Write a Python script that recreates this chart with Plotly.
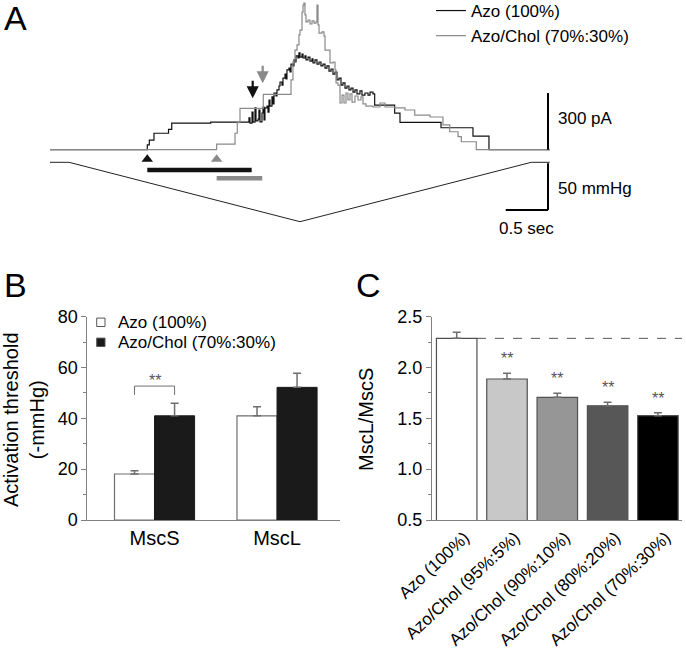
import plotly.graph_objects as go

FONT = "Liberation Sans, Arial, sans-serif"
W, H = 686, 657

# ---------------- Panel A data (time in s, current in pA; step changes) ----------------
azo_steps = [
    (0.0, 0), (1.150, 25), (1.174, 51), (1.229, 87), (1.401, 107), (1.439, 141), (1.90, 146),
    (2.329, 146), (2.352, 168), (2.364, 141), (2.388, 199), (2.400, 146), (2.423, 221), (2.435, 152),
    (2.459, 162), (2.470, 210), (2.482, 147), (2.506, 194), (2.518, 226), (2.530, 157), (2.541, 221),
    (2.565, 231), (2.577, 199), (2.589, 263), (2.600, 231), (2.624, 279), (2.636, 242), (2.648, 300),
    (2.671, 284), (2.683, 316), (2.707, 337), (2.719, 358), (2.742, 342), (2.754, 379), (2.778, 400),
    (2.790, 374), (2.801, 422), (2.825, 432), (2.837, 411), (2.849, 453), (2.872, 443), (2.884, 475),
    (2.896, 464), (2.908, 496), (2.931, 485), (2.943, 512), (2.955, 490), (2.979, 506), (2.991, 485),
    (3.014, 496), (3.026, 475), (3.050, 490), (3.073, 469), (3.097, 480), (3.109, 459), (3.132, 475),
    (3.156, 453), (3.180, 464), (3.203, 443), (3.227, 453), (3.251, 432), (3.274, 443), (3.298, 416),
    (3.322, 427), (3.345, 400), (3.369, 411), (3.392, 369), (3.416, 379), (3.440, 342), (3.463, 353),
    (3.487, 326), (3.511, 337), (3.534, 316), (3.558, 326), (3.582, 305), (3.605, 316), (3.629, 295),
    (3.664, 311), (3.688, 289), (3.723, 300), (3.759, 289), (3.783, 305), (3.818, 295), (3.838, 236),
    (4.074, 193), (4.137, 145), (4.622, 116), (5.000, 72), (5.189, 0), (5.907, 0),
]
chol_steps = [
    (0.0, 0), (1.970, 30), (2.187, 87), (2.214, 143), (2.246, 219), (2.521, 293), (2.849, 369),
    (2.872, 464), (2.896, 527), (2.920, 554), (2.943, 607), (2.955, 633), (2.979, 728), (2.991, 765),
    (3.002, 776), (3.014, 713), (3.026, 676), (3.050, 686), (3.073, 665), (3.097, 681), (3.121, 670),
    (3.144, 676), (3.156, 765), (3.168, 660), (3.180, 617), (3.215, 623), (3.239, 601), (3.251, 527),
    (3.310, 459), (3.345, 464), (3.369, 422), (3.381, 353), (3.404, 342), (3.428, 247), (3.452, 289),
    (3.475, 247), (3.499, 300), (3.522, 263), (3.546, 295), (3.570, 252), (3.605, 284), (3.641, 263),
    (3.676, 279), (3.700, 242), (3.735, 231), (3.818, 226), (3.901, 247), (3.960, 226), (4.078, 221),
    (4.196, 210), (4.311, 183), (4.492, 173), (4.645, 131), (4.725, 95), (4.823, 69), (4.862, 42),
    (5.039, 0), (5.907, 0),
]
press_t = [0.0, 0.225, 2.955, 5.689, 5.907]      # s
press_p = [0, 0, -63.6, 0, 0]                     # mmHg

mscs_onset = {"azo": 1.150, "chol": 1.970}        # s (triangles)
mscl_onset = {"azo": 2.396, "chol": 2.514}        # s (arrows)
arrow_tip_i = {"azo": 272, "chol": 351}           # pA

# ---------------- Panel B data ----------------
channels = ["MscS", "MscL"]
azo_thr = [18.1, 41.0]
azo_thr_err = [1.3, 3.6]
chol_thr = [41.0, 52.2]
chol_thr_err = [4.9, 5.5]

# ---------------- Panel C data ----------------
lipids = ["Azo (100%)", "Azo/Chol (95%:5%)", "Azo/Chol (90%:10%)",
          "Azo/Chol (80%:20%)", "Azo/Chol (70%:30%)"]
ratio = [2.287, 1.887, 1.707, 1.624, 1.526]
ratio_err = [0.059, 0.056, 0.039, 0.034, 0.029]
ratio_colors = ["#ffffff", "#c8c8c8", "#969696", "#575757", "#000000"]

BLACK_TR = "#111111"
GRAY_TR = "#8a8a8a"
AXC = "#808080"

fig = go.Figure()

# Panel A traces
fig.add_trace(go.Scatter(x=[s[0] for s in azo_steps], y=[s[1] for s in azo_steps],
                         mode="lines", line=dict(color=BLACK_TR, width=1.2, shape="hv"),
                         name="Azo (100%)", xaxis="x", yaxis="y"))
fig.add_trace(go.Scatter(x=[s[0] for s in chol_steps], y=[s[1] for s in chol_steps],
                         mode="lines", line=dict(color=GRAY_TR, width=1.2, shape="hv"),
                         name="Azo/Chol (70%:30%)", xaxis="x", yaxis="y"))
fig.add_trace(go.Scatter(x=press_t, y=press_p, mode="lines",
                         line=dict(color="#222222", width=1), showlegend=False,
                         xaxis="x", yaxis="y2"))
# triangles marking MscS activation
fig.add_trace(go.Scatter(x=[mscs_onset["azo"], mscs_onset["chol"]], y=[-50, -50],
                         mode="markers", marker=dict(symbol="triangle-up", size=10,
                                                     color=[BLACK_TR, GRAY_TR]),
                         showlegend=False, xaxis="x", yaxis="y"))
# bars between MscS and MscL activation
fig.add_trace(go.Scatter(x=[mscs_onset["azo"], mscl_onset["azo"] - 0.012], y=[-107, -107],
                         mode="lines", line=dict(color=BLACK_TR, width=4.5),
                         showlegend=False, xaxis="x", yaxis="y"))
fig.add_trace(go.Scatter(x=[mscs_onset["chol"], mscl_onset["chol"] - 0.005], y=[-151, -151],
                         mode="lines", line=dict(color=GRAY_TR, width=4.5),
                         showlegend=False, xaxis="x", yaxis="y"))

# Panel B bars
bw_b = 0.327
fig.add_trace(go.Bar(x=channels, y=azo_thr, width=bw_b, offset=-bw_b,
                     marker=dict(color="white", line=dict(color="#6e6e6e", width=1.2)),
                     error_y=dict(type="data", array=azo_thr_err, arrayminus=[0, 0], symmetric=False,
                                  color="#6e6e6e", thickness=1.5, width=4),
                     showlegend=False, xaxis="x2", yaxis="y3"))
fig.add_trace(go.Bar(x=channels, y=chol_thr, width=bw_b, offset=0,
                     marker=dict(color="#1a1a1a", line=dict(color="#1a1a1a", width=1)),
                     error_y=dict(type="data", array=chol_thr_err, arrayminus=[0, 0], symmetric=False,
                                  color="#6e6e6e", thickness=1.5, width=4),
                     showlegend=False, xaxis="x2", yaxis="y3"))

# Panel C bars
bw_c = 0.805
fig.add_trace(go.Bar(x=lipids, y=ratio, width=bw_c, offset=-bw_c / 2, base=0,
                     marker=dict(color=ratio_colors, line=dict(color="#505050", width=1.2)),
                     error_y=dict(type="data", array=ratio_err, arrayminus=[0] * 5, symmetric=False,
                                  color="#6e6e6e", thickness=1.5, width=4),
                     showlegend=False, xaxis="x3", yaxis="y4"))

shapes = []
annotations = []

# scale bars (panel A)
sb_t = 5.887
shapes.append(dict(type="line", xref="x", yref="y", x0=sb_t, x1=sb_t, y0=0, y1=300,
                   line=dict(color="black", width=2)))
shapes.append(dict(type="line", xref="x", yref="y2", x0=sb_t, x1=sb_t, y0=-1, y1=-51,
                   line=dict(color="black", width=2)))
shapes.append(dict(type="line", xref="x", yref="y2", x0=sb_t - 0.5, x1=sb_t, y0=-51, y1=-51,
                   line=dict(color="black", width=2)))
annotations += [
    dict(x=sb_t + 0.09, y=166, xref="x", yref="y", text="300 pA", showarrow=False,
         xanchor="left", yanchor="middle", font=dict(size=17)),
    dict(x=sb_t + 0.09, y=-27.8, xref="x", yref="y2", text="50 mmHg", showarrow=False,
         xanchor="left", yanchor="middle", font=dict(size=17)),
    dict(x=sb_t - 0.25, y=-71.3, xref="x", yref="y2", text="0.5 sec", showarrow=False,
         xanchor="center", yanchor="middle", font=dict(size=17)),
]
# arrows marking MscL activation
for key, col in (("azo", BLACK_TR), ("chol", GRAY_TR)):
    annotations.append(dict(x=mscl_onset[key], y=arrow_tip_i[key], xref="x", yref="y",
                            ax=0, ay=-19, showarrow=True, arrowhead=2, arrowsize=1.1,
                            arrowwidth=2.2, arrowcolor=col, text=""))

# panel labels
for lab, px, py in (("A", 15, 18), ("B", 15, 285), ("C", 368, 285)):
    annotations.append(dict(x=px / W, y=1 - py / H, xref="paper", yref="paper", text=lab,
                            showarrow=False, xanchor="center", yanchor="middle",
                            font=dict(size=34)))

# Panel B: legend (manual), bracket and stars, y title
leg_b = [("Azo (100%)", "white", 322.3), ("Azo/Chol (70%:30%)", "#1a1a1a", 342.3)]
for txt, col, py in leg_b:
    shapes.append(dict(type="rect", xref="paper", yref="paper",
                       x0=96.7 / W, x1=105 / W, y0=1 - (py + 4.2) / H, y1=1 - (py - 4.2) / H,
                       fillcolor=col, line=dict(color="#555555", width=1)))
    annotations.append(dict(x=116 / W, y=1 - py / H, xref="paper", yref="paper", text=txt,
                            showarrow=False, xanchor="left", yanchor="middle",
                            font=dict(size=17)))
br_low = max(chol_thr[0] + chol_thr_err[0], azo_thr[0] + azo_thr_err[0]) + 3.3
br_high = br_low + 3.5
shapes.append(dict(type="path", xref="x2", yref="y3",
                   path=f"M {-bw_b/2},{br_low} L {-bw_b/2},{br_high} L {bw_b/2},{br_high} L {bw_b/2},{br_low}",
                   line=dict(color="#707070", width=1)))
annotations.append(dict(x=0, y=br_high, xref="x2", yref="y3", text="**", showarrow=False,
                        xanchor="center", yanchor="bottom", yshift=-5,
                        font=dict(size=16, color="#555555")))
annotations.append(dict(x=24 / W, y=1 - 420 / H, xref="paper", yref="paper",
                        text="Activation threshold<br>(-mmHg)", textangle=-90, showarrow=False,
                        xanchor="center", yanchor="middle", font=dict(size=20)))

# Panel C: dashed reference line, stars, y title
shapes.append(dict(type="line", xref="x3", yref="y4", x0=bw_c / 2, x1=4.6,
                   y0=ratio[0], y1=ratio[0], line=dict(color="#555555", width=1, dash="dash")))
for i in range(1, 5):
    annotations.append(dict(x=lipids[i], y=ratio[i] + ratio_err[i], xref="x3", yref="y4",
                            text="**", showarrow=False, xanchor="center", yanchor="bottom",
                            yshift=4, font=dict(size=16, color="#555555")))
annotations.append(dict(x=366 / W, y=1 - 420 / H, xref="paper", yref="paper",
                        text="MscL/MscS", textangle=-90, showarrow=False,
                        xanchor="center", yanchor="middle", font=dict(size=20)))

y_dom_bc = [1 - 520 / H, 1 - 316.7 / H]

fig.update_layout(
    template="none",
    width=W, height=H, margin=dict(l=0, r=0, t=0, b=0, pad=0, autoexpand=False),
    paper_bgcolor="white", plot_bgcolor="white",
    font=dict(family=FONT, size=17, color="black"),
    barmode="overlay",
    showlegend=True,
    legend=dict(x=431 / W, y=1 + 7 / H, xanchor="left", yanchor="top", bgcolor="rgba(0,0,0,0)",
                font=dict(size=17), itemwidth=30, tracegroupgap=0, borderwidth=0),
    xaxis=dict(domain=[0, 1], range=[-0.591, 7.518], visible=False, anchor="y", automargin=False),
    yaxis=dict(domain=[1 - 240 / H, 1], range=[-477.7, 791.9], visible=False, anchor="x",
               automargin=False),
    yaxis2=dict(overlaying="y", range=[-83.2, 173.8], visible=False, anchor="x", automargin=False),
    xaxis2=dict(domain=[87.3 / W, 340 / W], anchor="y3", type="category", range=[-0.549, 1.514],
                showline=True, linecolor=AXC, linewidth=1, ticks="", showgrid=False,
                zeroline=False, tickfont=dict(size=20), automargin=False),
    yaxis3=dict(domain=y_dom_bc, anchor="x2", range=[0, 80], dtick=20,
                showline=True, linecolor=AXC, linewidth=1, ticks="outside", ticklen=5,
                tickcolor=AXC, showgrid=False, zeroline=False, tickfont=dict(size=18),
                automargin=False,
                minor=dict(dtick=10, ticks="outside", ticklen=3, tickcolor=AXC, showgrid=False)),
    xaxis3=dict(domain=[432 / W, 682 / W], anchor="y4", type="category", range=[-0.491, 4.479],
                showline=True, linecolor=AXC, linewidth=1, ticks="", showgrid=False,
                zeroline=False, tickangle=-43, tickfont=dict(size=17), automargin=False,
                ticklabelshift=8),
    yaxis4=dict(domain=y_dom_bc, anchor="x3", range=[0.5, 2.5], dtick=0.5, tick0=0.5,
                tickformat=".1f", showline=True, linecolor=AXC, linewidth=1, ticks="outside",
                ticklen=5, tickcolor=AXC, showgrid=False, zeroline=False, tickfont=dict(size=18),
                automargin=False,
                minor=dict(dtick=0.25, ticks="outside", ticklen=3, tickcolor=AXC, showgrid=False)),
    shapes=shapes, annotations=annotations,
)

fig.write_html("out.html", config={"displayModeBar": False},
               post_script="document.body.style.margin='0';document.body.style.overflow='hidden';")
